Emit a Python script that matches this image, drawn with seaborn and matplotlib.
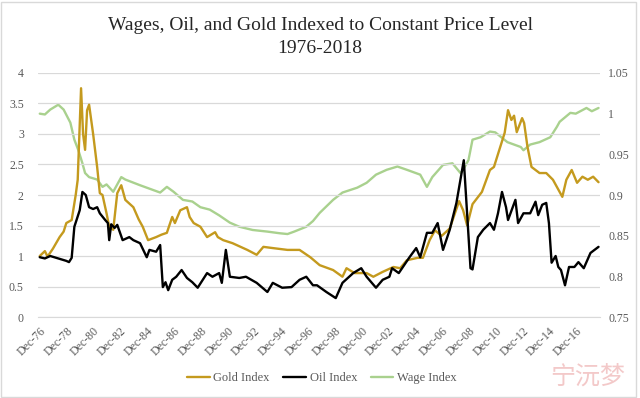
import pandas as pd
import numpy as np
import seaborn as sns
import matplotlib.pyplot as plt
from matplotlib.patches import Rectangle

# values (decimal years)
gold_year = [1976.92, 1977.3, 1977.5, 1977.9, 1978.4, 1978.7, 1978.9, 1979.3, 1979.6, 1979.75,
             1980.0, 1980.15, 1980.3, 1980.45, 1980.6, 1980.9, 1981.2, 1981.4, 1981.6, 1981.9,
             1982.1, 1982.4, 1982.7, 1983.0, 1983.3, 1983.9, 1984.3, 1984.6, 1985.0, 1985.6,
             1986.0, 1986.4, 1986.8, 1987.0, 1987.4, 1987.9, 1988.1, 1988.4, 1988.9, 1989.4,
             1990.0, 1990.2, 1990.6, 1991.3, 1992.4, 1993.1, 1993.6, 1994.3, 1995.4, 1996.3,
             1997.1, 1997.8, 1998.8, 1999.5, 1999.8, 2000.4, 2001.3, 2001.8, 2002.5, 2003.3,
             2003.8, 2004.3, 2005.1, 2005.5, 2006.0, 2006.4, 2006.9, 2007.5, 2008.2, 2008.5,
             2008.8, 2009.2, 2009.9, 2010.5, 2010.8, 2011.2, 2011.6, 2011.85, 2012.1, 2012.3,
             2012.5, 2012.9, 2013.05, 2013.3, 2013.6, 2013.9, 2014.2, 2014.7, 2015.2, 2015.9,
             2016.2, 2016.6, 2017.0, 2017.4, 2017.8, 2018.2, 2018.6]
gold_val = [1.00, 1.08, 0.99, 1.12, 1.31, 1.40, 1.54, 1.59, 2.00, 2.25,
            3.75, 3.00, 2.74, 3.39, 3.48, 3.00, 2.46, 2.03, 2.00, 1.70,
            1.48, 1.43, 2.03, 2.16, 1.92, 1.80, 1.60, 1.48, 1.26, 1.31,
            1.35, 1.38, 1.64, 1.54, 1.75, 1.80, 1.64, 1.54, 1.48, 1.31,
            1.39, 1.31, 1.26, 1.21, 1.10, 1.02, 1.15, 1.13, 1.10, 1.10,
            0.98, 0.85, 0.77, 0.66, 0.80, 0.72, 0.72, 0.66, 0.74, 0.82,
            0.80, 0.93, 0.97, 0.97, 1.26, 1.42, 1.33, 1.45, 1.90, 1.75,
            1.50, 1.85, 2.05, 2.41, 2.46, 2.74, 3.02, 3.39, 3.23, 3.30,
            3.03, 3.26, 3.18, 2.79, 2.46, 2.41, 2.36, 2.36, 2.25, 1.97,
            2.25, 2.41, 2.20, 2.30, 2.25, 2.30, 2.21]

oil_year = [1976.92, 1977.3, 1977.7, 1978.3, 1978.9, 1979.1, 1979.3, 1979.5, 1979.9, 1980.1,
            1980.35, 1980.6, 1980.9, 1981.2, 1981.4, 1981.8, 1982.0, 1982.1, 1982.25, 1982.5,
            1982.7, 1983.1, 1983.6, 1983.9, 1984.4, 1984.9, 1985.1, 1985.6, 1985.9, 1986.1,
            1986.3, 1986.5, 1986.8, 1987.1, 1987.5, 1987.9, 1988.3, 1988.7, 1989.4, 1989.8,
            1990.3, 1990.5, 1990.8, 1991.1, 1991.8, 1992.3, 1993.1, 1993.9, 1994.3, 1995.0,
            1995.7, 1996.3, 1996.8, 1997.3, 1997.6, 1998.3, 1999.0, 1999.5, 2000.3, 2000.9,
            2001.3, 2002.0, 2002.5, 2003.0, 2003.2, 2003.7, 2004.5, 2005.0, 2005.3, 2005.8,
            2006.2, 2006.6, 2007.0, 2007.5, 2008.0, 2008.55, 2009.05, 2009.2, 2009.6, 2010.0,
            2010.5, 2010.8, 2011.1, 2011.4, 2011.7, 2011.85, 2012.4, 2012.6, 2013.0, 2013.5,
            2013.9, 2014.1, 2014.4, 2014.7, 2014.9, 2015.1, 2015.4, 2015.6, 2015.8, 2016.1,
            2016.4, 2016.8, 2017.1, 2017.5, 2018.0, 2018.6]
oil_val = [0.98, 0.96, 1.00, 0.96, 0.92, 0.90, 0.97, 1.48, 1.75, 2.05,
           2.00, 1.80, 1.77, 1.80, 1.70, 1.59, 1.54, 1.26, 1.52, 1.46,
           1.51, 1.26, 1.31, 1.26, 1.21, 0.98, 1.10, 1.07, 1.18, 0.49,
           0.57, 0.44, 0.61, 0.66, 0.77, 0.64, 0.57, 0.48, 0.72, 0.66,
           0.72, 0.56, 1.10, 0.66, 0.64, 0.66, 0.56, 0.41, 0.56, 0.48,
           0.49, 0.61, 0.66, 0.52, 0.52, 0.41, 0.31, 0.56, 0.72, 0.80,
           0.66, 0.48, 0.61, 0.66, 0.80, 0.72, 0.98, 1.13, 0.98, 1.38,
           1.38, 1.54, 1.10, 1.43, 1.87, 2.57, 0.80, 0.78, 1.31, 1.43,
           1.54, 1.43, 1.70, 2.05, 1.80, 1.59, 1.92, 1.54, 1.70, 1.70,
           1.89, 1.67, 1.84, 1.87, 1.54, 0.89, 1.00, 0.82, 0.77, 0.52,
           0.82, 0.82, 0.90, 0.80, 1.05, 1.15]

wage_year = [1976.92, 1977.3, 1977.7, 1978.3, 1978.7, 1979.2, 1979.5, 1979.8, 1980.1, 1980.3,
             1980.6, 1981.2, 1981.6, 1981.9, 1982.4, 1983.0, 1983.3, 1984.4, 1985.4, 1985.9,
             1986.4, 1986.9, 1987.6, 1988.3, 1988.9, 1989.6, 1990.3, 1991.1, 1991.8, 1992.8,
             1993.9, 1994.8, 1995.4, 1995.9, 1996.8, 1997.3, 1997.8, 1998.8, 1999.5, 2000.6,
             2001.3, 2002.0, 2002.8, 2003.6, 2004.3, 2005.3, 2005.8, 2006.2, 2007.0, 2007.7,
             2008.3, 2008.5, 2008.9, 2009.2, 2009.8, 2010.5, 2010.9, 2011.8, 2012.8, 2013.0,
             2013.5, 2014.2, 2015.0, 2015.5, 2015.7, 2016.5, 2016.9, 2017.7, 2018.1, 2018.6]
wage_val = [1.000, 0.999, 1.005, 1.011, 1.005, 0.989, 0.968, 0.955, 0.939, 0.927,
            0.922, 0.919, 0.910, 0.913, 0.904, 0.922, 0.919, 0.912, 0.906, 0.903,
            0.910, 0.904, 0.894, 0.892, 0.885, 0.882, 0.875, 0.866, 0.861, 0.857,
            0.855, 0.853, 0.852, 0.855, 0.861, 0.868, 0.878, 0.894, 0.903, 0.909,
            0.915, 0.925, 0.931, 0.935, 0.931, 0.925, 0.910, 0.922, 0.937, 0.939,
            0.927, 0.931, 0.943, 0.968, 0.971, 0.978, 0.977, 0.965, 0.959, 0.955,
            0.962, 0.965, 0.971, 0.984, 0.990, 1.001, 1.000, 1.007, 1.003, 1.007]

tick_years = list(range(1976, 2017, 2))
tick_labels = ["Dec-%02d" % (y % 100) for y in tick_years]

gold_df = pd.DataFrame({"year": gold_year, "value": gold_val})
oil_df = pd.DataFrame({"year": oil_year, "value": oil_val})
wage_df = pd.DataFrame({"year": wage_year, "value": wage_val})

sns.set_style("white")
plt.rcParams["font.family"] = ["Liberation Serif", "DejaVu Serif"]

GOLD = "#C49A1E"
GREEN = "#A9D18E"
GRID = "#D9D9D9"
TXT = "#595959"

fig = plt.figure(figsize=(6.4, 3.98), dpi=100)
ax = fig.add_axes([0.059, 0.2035, 0.8785, 0.6131])
ax2 = ax.twinx()

sns.lineplot(data=gold_df, x="year", y="value", ax=ax, color=GOLD, lw=1.7, label="Gold Index", legend=False)
sns.lineplot(data=oil_df, x="year", y="value", ax=ax, color="black", lw=1.7, label="Oil Index", legend=False)
sns.lineplot(data=wage_df, x="year", y="value", ax=ax2, color=GREEN, lw=1.7, label="Wage Index", legend=False)

# left-axis lines drawn over the wage line
ax.set_zorder(ax2.get_zorder() + 1)
ax.patch.set_visible(False)

ax.set_xlim(1976.77, 2018.71)
ax.set_ylim(0, 4)
ax2.set_ylim(0.75, 1.05)
ax.set_yticks(np.arange(0, 4.01, 0.5))
ax.set_yticklabels(["0", "0.5", "1", "1.5", "2", "2.5", "3", "3.5", "4"])
ax2.set_yticks(np.arange(0.75, 1.051, 0.05))
ax2.set_yticklabels(["0.75", "0.8", "0.85", "0.9", "0.95", "1", "1.05"])
ax.set_xticks([y + 0.92 for y in tick_years])
ax.set_xticklabels(tick_labels, rotation=45, ha="right", rotation_mode="anchor")

ax.grid(axis="y", color=GRID, lw=0.9)
ax.set_axisbelow(True)
for a in (ax, ax2):
    for s in a.spines.values():
        s.set_visible(False)
    a.set_xlabel("")
    a.set_ylabel("")
ax.spines["bottom"].set_visible(True)
ax.spines["bottom"].set_color(GRID)

ax.tick_params(axis="x", colors=GRID, labelcolor=TXT, labelsize=8.5, length=4, width=0.8, pad=2)
ax.tick_params(axis="y", length=0, labelcolor=TXT, labelsize=8.5, pad=10)
ax2.tick_params(axis="y", length=0, labelcolor=TXT, labelsize=8.5, pad=6)

fig.text(0.5, 0.935, "Wages, Oil, and Gold Indexed to Constant Price Level",
         ha="center", va="center", fontsize=14, color="#262626")
fig.text(0.5, 0.878, "1976-2018", ha="center", va="center", fontsize=14, color="#262626")

handles = ax.get_lines()[:2] + ax2.get_lines()[:1]
fig.legend(handles, ["Gold Index", "Oil Index", "Wage Index"], loc="center",
           bbox_to_anchor=(0.503, 0.05), ncol=3, frameon=False, fontsize=9,
           handlelength=1.8, columnspacing=1.1, handletextpad=0.3, labelcolor=TXT)

fig.text(0.918, 0.053, "宁沅梦", ha="center", va="center", fontsize=18,
         color="#F3C9C9", family=["Noto Sans CJK SC", "DejaVu Sans"])

fig.patches.append(Rectangle((0.002, 0.003), 0.992, 0.993, transform=fig.transFigure,
                             fill=False, edgecolor=GRID, lw=1))

fig.savefig("out.png", dpi=100)
